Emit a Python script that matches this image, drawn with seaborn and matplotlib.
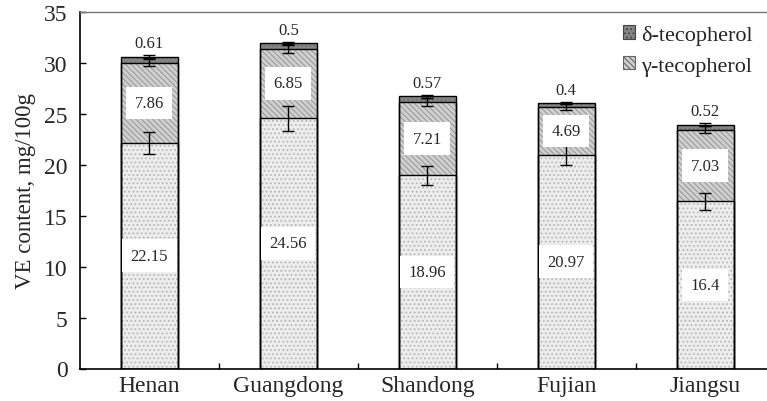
import numpy as np
import pandas as pd
import matplotlib
matplotlib.use("Agg")
import matplotlib.pyplot as plt
import seaborn as sns
from matplotlib.patches import Patch

# Tocopherol composition by region (mg/100g)
regions = ["Henan", "Guangdong", "Shandong", "Fujian", "Jiangsu"]
alpha_vals = [22.15, 24.56, 18.96, 20.97, 16.4]
gamma_vals = [7.86, 6.85, 7.21, 4.69, 7.03]
delta_vals = [0.61, 0.5, 0.57, 0.4, 0.52]
alpha_err = [1.1, 1.2, 0.9, 1.0, 0.8]
gamma_err = [0.35, 0.4, 0.35, 0.3, 0.35]
delta_err = [0.15, 0.15, 0.15, 0.1, 0.15]
y_ticks = [0, 5, 10, 15, 20, 25, 30, 35]
legend_labels = ["δ-tecopherol", "γ-tecopherol"]

sns.set_theme(style="white")
plt.rcParams["font.family"] = ["Liberation Serif", "DejaVu Serif"]
plt.rcParams["hatch.linewidth"] = 0.8

df = pd.DataFrame({"region": regions, "alpha": alpha_vals,
                   "gamma": gamma_vals, "delta": delta_vals})
df["ag"] = df["alpha"] + df["gamma"]
df["total"] = df["ag"] + df["delta"]

fig = plt.figure(figsize=(7.67, 4.02), dpi=100)
ax = fig.add_axes([80 / 767, 32.5 / 402, 694.5 / 767, 356.5 / 402])

# fill + hatch for each cumulative layer, tallest first
styles = {
    "total": ("#858585", "#6e6e6e", "...."),
    "ag": ("#d0d0d0", "#9c9c9c", "\\\\\\\\\\\\"),
    "alpha": ("#ededed", "#b8b8b8", "...."),
}
bar_w = 0.41
for col in ["total", "ag", "alpha"]:
    face, hcol, hatch = styles[col]
    n0 = len(ax.patches)
    sns.barplot(data=df, x="region", y=col, order=regions, width=bar_w,
                color=face, saturation=1, errorbar=None, ax=ax)
    for p in ax.patches[n0:]:
        p.set_facecolor(face)
        p.set_edgecolor(hcol)
        p.set_hatch(hatch)
        p.set_linewidth(0)

# black outlines of each segment
for col in ["total", "ag", "alpha"]:
    n0 = len(ax.patches)
    sns.barplot(data=df, x="region", y=col, order=regions, width=bar_w,
                color="white", saturation=1, errorbar=None, ax=ax)
    for p in ax.patches[n0:]:
        p.set_facecolor("none")
        p.set_edgecolor("black")
        p.set_linewidth(1.0)
        p.set_zorder(3)

x = np.arange(len(regions))
for yv, err in [(df["alpha"], alpha_err), (df["ag"], gamma_err), (df["total"], delta_err)]:
    ax.errorbar(x, yv, yerr=err, fmt="none", ecolor="black", elinewidth=1,
                capsize=4.5, capthick=1, zorder=4)

box = dict(boxstyle="square,pad=0.5", facecolor="white", edgecolor="none")
for i in range(len(regions)):
    ax.text(i, alpha_vals[i] / 2, str(alpha_vals[i]), ha="center", va="center",
            fontsize=12, bbox=box, zorder=6)
    ax.text(i, alpha_vals[i] + gamma_vals[i] / 2, str(gamma_vals[i]), ha="center",
            va="center", fontsize=12, bbox=box, zorder=6)
    ax.text(i, df["total"][i] + 1.3, str(delta_vals[i]), ha="center",
            va="center", fontsize=12, zorder=6)

ax.set_xlim(-0.5, len(regions) - 0.5)
ax.set_ylim(0, 35)
ax.set_yticks(y_ticks)
ax.set_yticklabels([str(t) for t in y_ticks])
ax.set_xticks(x)
ax.set_xticklabels(regions)
ax.set_xticks(x[:-1] + 0.5, minor=True)
ax.tick_params(axis="x", which="major", length=0, pad=5, labelsize=17)
ax.tick_params(axis="x", which="minor", direction="in", length=4, width=1,
               color="black", bottom=True)
ax.tick_params(axis="y", direction="in", length=4, width=1, color="black",
               left=True, pad=9, labelsize=17)
ax.set_xlabel("")
ax.set_ylabel("VE content, mg/100g", fontsize=16.5, labelpad=6)

for s in ["left", "bottom"]:
    ax.spines[s].set_color("black")
    ax.spines[s].set_linewidth(1.2)
ax.spines["top"].set_color("#777777")
ax.spines["top"].set_linewidth(1.0)
ax.spines["right"].set_visible(False)

handles = [Patch(facecolor=styles["total"][0], edgecolor="#444444",
                 hatch=styles["total"][2], linewidth=0.8),
           Patch(facecolor=styles["ag"][0], edgecolor="#666666",
                 hatch=styles["ag"][2], linewidth=0.8)]
fig.legend(handles, legend_labels, loc="upper right",
           bbox_to_anchor=(762 / 767, 1 - 17 / 402), frameon=False,
           fontsize=16, handlelength=0.55, handleheight=0.55,
           handletextpad=0.3, labelspacing=0.5, borderaxespad=0)

fig.savefig("out.png", dpi=100)
